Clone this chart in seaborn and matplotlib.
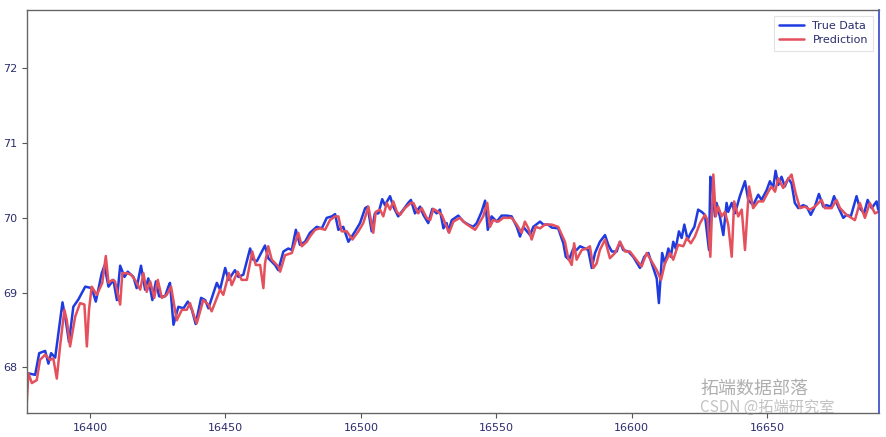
import numpy as np
import pandas as pd
import matplotlib
matplotlib.use("Agg")
import matplotlib.pyplot as plt
import seaborn as sns

# ---- data ----
true_x = [16376.7, 16377.2, 16379.7, 16381.2, 16383.4, 16384.6, 16385.6, 16387.1, 16389.8, 16391.0,
          16392.2, 16393.8, 16395.7, 16398.2, 16400.6, 16402.1, 16404.3, 16405.3, 16406.8, 16408.6,
          16409.9, 16411.1, 16412.7, 16413.9, 16416.0, 16417.2, 16418.8, 16420.3, 16421.5, 16423.0,
          16424.3, 16425.5, 16427.7, 16428.9, 16429.5, 16430.8, 16432.6, 16434.5, 16436.1, 16437.6,
          16439.0, 16441.0, 16442.5, 16443.7, 16446.8, 16448.0, 16449.9, 16451.1, 16453.5, 16454.8,
          16456.6, 16459.1, 16460.3, 16461.6, 16464.6, 16465.8, 16468.3, 16469.5, 16471.4, 16473.2,
          16474.5, 16476.0, 16477.5, 16479.4, 16481.2, 16483.7, 16485.6, 16487.4, 16489.3, 16490.5,
          16491.7, 16493.5, 16495.4, 16497.9, 16499.7, 16501.6, 16502.5, 16504.0, 16505.2, 16506.5,
          16507.9, 16508.9, 16510.8, 16512.0, 16513.8, 16515.7, 16517.5, 16518.5, 16520.0, 16521.9,
          16523.1, 16524.9, 16526.4, 16528.0, 16529.2, 16530.5, 16531.7, 16532.3, 16533.6, 16536.0,
          16537.9, 16539.7, 16541.5, 16542.8, 16544.6, 16545.9, 16546.9, 16548.3, 16550.2, 16552.0,
          16553.9, 16555.7, 16557.6, 16558.8, 16560.0, 16562.5, 16563.7, 16565.5, 16566.2, 16567.4,
          16569.2, 16570.5, 16572.9, 16574.8, 16575.7, 16576.9, 16578.5, 16579.7, 16581.0, 16582.8,
          16584.0, 16585.3, 16586.5, 16588.3, 16590.2, 16591.4, 16592.7, 16594.5, 16595.7, 16596.9,
          16598.8, 16600.6, 16603.1, 16604.7, 16606.2, 16608.0, 16609.3, 16610.1, 16611.3, 16612.3,
          16613.6, 16614.5, 16615.4, 16616.3, 16617.5, 16618.5, 16619.5, 16620.7, 16621.9, 16623.2,
          16624.6, 16625.9, 16627.1, 16628.6, 16629.1, 16629.8, 16630.8, 16631.4, 16632.6, 16633.9,
          16635.1, 16635.7, 16637.0, 16638.2, 16640.0, 16641.9, 16643.1, 16644.9, 16646.8, 16648.0,
          16649.9, 16651.1, 16652.3, 16653.2, 16654.2, 16655.4, 16656.6, 16657.9, 16659.1, 16660.3,
          16661.6, 16663.4, 16664.7, 16666.2, 16667.7, 16669.2, 16670.8, 16672.0, 16673.6, 16674.8,
          16676.3, 16678.2, 16679.4, 16681.0, 16683.1, 16684.3, 16685.9, 16687.2, 16688.7, 16690.5,
          16691.1]
true_y = [67.76, 67.92, 67.90, 68.19, 68.22, 68.05, 68.19, 68.13, 68.87, 68.63,
          68.34, 68.81, 68.91, 69.08, 69.06, 68.88, 69.26, 69.36, 69.08, 69.17,
          68.90, 69.36, 69.21, 69.28, 69.21, 69.06, 69.36, 69.04, 69.19, 68.90,
          69.15, 68.95, 68.95, 69.08, 69.13, 68.57, 68.81, 68.79, 68.88, 68.77,
          68.58, 68.93, 68.90, 68.79, 69.13, 69.04, 69.33, 69.17, 69.30, 69.21,
          69.24, 69.59, 69.44, 69.42, 69.63, 69.46, 69.37, 69.30, 69.55, 69.59,
          69.57, 69.84, 69.64, 69.68, 69.80, 69.88, 69.86, 70.00, 70.02, 70.05,
          69.84, 69.88, 69.68, 69.82, 69.93, 70.13, 70.15, 69.82, 70.06, 70.06,
          70.25, 70.17, 70.29, 70.15, 70.02, 70.11, 70.20, 70.24, 70.06, 70.15,
          70.04, 69.93, 70.12, 70.06, 70.11, 69.86, 69.93, 69.82, 69.97, 70.03,
          69.95, 69.91, 69.88, 69.93, 70.08, 70.23, 69.84, 70.02, 69.95, 70.03,
          70.03, 70.02, 69.88, 69.75, 69.88, 69.77, 69.88, 69.93, 69.95, 69.91,
          69.91, 69.87, 69.86, 69.66, 69.48, 69.44, 69.59, 69.57, 69.62, 69.59,
          69.57, 69.33, 69.53, 69.68, 69.77, 69.64, 69.55, 69.55, 69.68, 69.57,
          69.55, 69.48, 69.33, 69.48, 69.53, 69.33, 69.19, 68.86, 69.53, 69.39,
          69.59, 69.48, 69.68, 69.59, 69.82, 69.73, 69.91, 69.71, 69.80, 69.88,
          70.11, 70.08, 70.04, 69.57, 70.55, 70.42, 70.02, 70.20, 70.02, 69.77,
          70.20, 70.08, 70.20, 70.06, 70.29, 70.49, 70.24, 70.17, 70.31, 70.24,
          70.37, 70.49, 70.40, 70.63, 70.44, 70.55, 70.42, 70.53, 70.46, 70.20,
          70.13, 70.17, 70.15, 70.04, 70.15, 70.32, 70.15, 70.17, 70.15, 70.29,
          70.15, 70.00, 70.04, 70.02, 70.29, 70.13, 70.06, 70.24, 70.13, 70.22,
          70.11]

pred_x = [16376.6, 16377.2, 16378.5, 16380.3, 16381.5, 16383.4, 16385.2, 16386.4, 16387.7, 16388.9,
          16390.5, 16391.4, 16392.6, 16394.5, 16396.3, 16397.9, 16398.8, 16399.6, 16400.6, 16402.5,
          16404.5, 16405.8, 16406.8, 16408.2, 16409.2, 16411.1, 16411.9, 16413.6, 16415.1, 16416.6,
          16418.5, 16419.7, 16420.9, 16422.2, 16423.7, 16425.0, 16426.5, 16428.3, 16429.9, 16432.0,
          16433.9, 16435.7, 16436.9, 16438.1, 16439.4, 16441.8, 16443.7, 16444.9, 16448.0, 16449.2,
          16451.3, 16452.3, 16454.5, 16456.0, 16457.9, 16459.9, 16461.2, 16462.8, 16464.0, 16464.6,
          16465.8, 16467.1, 16469.5, 16470.2, 16472.0, 16474.5, 16476.9, 16478.2, 16480.0, 16481.2,
          16483.1, 16484.9, 16486.8, 16488.6, 16490.5, 16491.7, 16492.9, 16494.8, 16496.9, 16499.1,
          16500.9, 16502.8, 16504.6, 16505.5, 16507.1, 16508.3, 16509.6, 16510.8, 16512.0, 16513.3,
          16514.5, 16516.3, 16518.5, 16519.4, 16521.2, 16522.5, 16524.3, 16525.6, 16526.8, 16528.6,
          16529.9, 16531.7, 16532.6, 16534.2, 16536.6, 16538.5, 16542.2, 16543.4, 16545.2, 16546.7,
          16547.7, 16548.9, 16550.8, 16552.6, 16555.7, 16557.6, 16559.4, 16560.6, 16561.9, 16563.1,
          16564.6, 16566.2, 16568.0, 16570.5, 16572.9, 16575.4, 16576.6, 16577.9, 16578.8, 16579.7,
          16581.6, 16583.4, 16584.6, 16585.9, 16587.1, 16588.3, 16590.2, 16592.0, 16593.9, 16595.7,
          16597.6, 16599.4, 16601.3, 16603.7, 16605.6, 16607.4, 16609.3, 16610.9, 16612.3, 16614.2,
          16615.4, 16617.2, 16619.1, 16620.4, 16621.9, 16623.4, 16625.3, 16627.1, 16628.1, 16629.1,
          16630.2, 16631.1, 16632.0, 16633.3, 16634.5, 16635.7, 16637.0, 16637.9, 16639.4, 16640.7,
          16641.9, 16643.4, 16644.9, 16646.8, 16648.6, 16650.5, 16651.7, 16653.0, 16654.2, 16656.0,
          16657.3, 16659.1, 16660.6, 16662.2, 16664.0, 16665.9, 16667.7, 16670.2, 16671.4, 16673.9,
          16675.7, 16677.0, 16679.4, 16682.5, 16684.3, 16686.2, 16688.0, 16689.9, 16691.1]
pred_y = [67.52, 67.92, 67.79, 67.83, 68.10, 68.17, 68.10, 68.12, 67.85, 68.28,
          68.77, 68.63, 68.28, 68.68, 68.86, 68.84, 68.28, 68.77, 69.08, 68.97,
          69.13, 69.49, 69.13, 69.17, 69.15, 68.84, 69.26, 69.26, 69.24, 69.17,
          69.04, 69.26, 69.01, 69.15, 68.93, 69.17, 68.93, 68.97, 69.08, 68.63,
          68.77, 68.77, 68.86, 68.72, 68.59, 68.90, 68.84, 68.75, 69.04, 68.97,
          69.26, 69.10, 69.28, 69.17, 69.17, 69.55, 69.37, 69.37, 69.06, 69.39,
          69.62, 69.44, 69.35, 69.28, 69.50, 69.53, 69.80, 69.62, 69.68, 69.75,
          69.84, 69.86, 69.84, 69.97, 70.02, 70.02, 69.82, 69.82, 69.71, 69.82,
          69.93, 70.15, 69.80, 70.08, 70.11, 70.02, 70.20, 70.11, 70.22, 70.08,
          70.04, 70.13, 70.20, 70.20, 70.06, 70.13, 70.00, 69.97, 70.12, 70.08,
          70.04, 69.88, 69.80, 69.95, 70.00, 69.93, 69.84, 69.91, 70.02, 70.20,
          69.88, 69.97, 69.95, 70.00, 70.00, 69.91, 69.80, 69.95, 69.86, 69.71,
          69.88, 69.86, 69.91, 69.91, 69.88, 69.68, 69.46, 69.37, 69.66, 69.44,
          69.57, 69.59, 69.62, 69.33, 69.39, 69.57, 69.71, 69.46, 69.53, 69.68,
          69.55, 69.55, 69.46, 69.35, 69.53, 69.42, 69.30, 69.17, 69.39, 69.53,
          69.44, 69.64, 69.62, 69.73, 69.66, 69.75, 69.93, 70.04, 69.97, 69.48,
          70.58, 70.02, 70.15, 70.02, 70.08, 69.91, 69.48, 70.22, 70.02, 70.11,
          69.57, 70.42, 70.13, 70.22, 70.22, 70.35, 70.42, 70.35, 70.53, 70.40,
          70.49, 70.58, 70.33, 70.13, 70.15, 70.11, 70.15, 70.24, 70.13, 70.13,
          70.24, 70.13, 70.04, 69.97, 70.20, 70.00, 70.20, 70.06, 70.08]

series_labels = ["True Data", "Prediction"]
x_ticks = [16400, 16450, 16500, 16550, 16600, 16650]
y_ticks = [68, 69, 70, 71, 72]
watermark_lines = ["拓端数据部落", "CSDN @拓端研究室"]

df_true = pd.DataFrame({"x": true_x, "y": true_y})
df_pred = pd.DataFrame({"x": pred_x, "y": pred_y})

sns.set_style("white")
plt.rcParams["font.family"] = ["DejaVu Sans", "Noto Sans CJK SC"]

fig = plt.figure(figsize=(8.86, 4.37), dpi=100)
ax = fig.add_axes([0.0305, 0.055, 0.9616, 0.922])

sns.lineplot(data=df_true, x="x", y="y", ax=ax, color="#1f3be0", linewidth=1.8,
             label=series_labels[0], estimator=None, sort=False)
sns.lineplot(data=df_pred, x="x", y="y", ax=ax, color="#e4505c", linewidth=1.8,
             label=series_labels[1], estimator=None, sort=False)

ax.set_xlim(16376.7, 16691.4)
ax.set_ylim(67.39, 72.78)
ax.set_xticks(x_ticks)
ax.set_yticks(y_ticks)
ax.set_xlabel("")
ax.set_ylabel("")
ax.tick_params(axis="both", which="major", labelsize=8, colors="#555555",
               labelcolor="#2b2d6e", length=3.5, width=0.8, direction="out",
               bottom=True, left=True)

for side in ["left", "bottom", "top"]:
    ax.spines[side].set_color("#666666")
    ax.spines[side].set_linewidth(1.0)
ax.spines["right"].set_color("#3446c8")
ax.spines["right"].set_linewidth(1.2)

leg = ax.legend(loc="upper right", fontsize=8, frameon=True, fancybox=False,
                handlelength=2.2, borderpad=0.5, labelspacing=0.35)
leg.get_frame().set_edgecolor("#dddddd")
leg.get_frame().set_linewidth(0.8)
for t in leg.get_texts():
    t.set_color("#2b2d6e")

fig.text(0.79, 0.11, watermark_lines[0], fontsize=13, color="#9a9a9a", alpha=0.8,
         family=["Noto Sans CJK SC", "DejaVu Sans"], ha="left", va="center")
fig.text(0.79, 0.068, watermark_lines[1], fontsize=11, color="#9a9a9a", alpha=0.6,
         family=["Noto Sans CJK SC", "DejaVu Sans"], ha="left", va="center")

fig.savefig("out.png", dpi=100)
